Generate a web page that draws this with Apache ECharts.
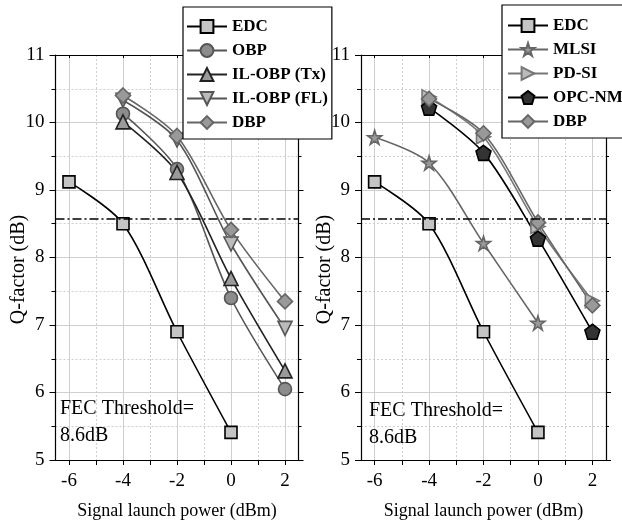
<!DOCTYPE html>
<html>
<head>
<meta charset="utf-8">
<script src="https://cdn.jsdelivr.net/npm/echarts@6/dist/echarts.min.js"></script>
<style>
  html, body { margin: 0; padding: 0; background: #fff; }
  #chart { width: 622px; height: 523px; }
</style>
</head>
<body>
<div id="chart"></div>
<script>
/* 数据 */
const xFrom6 = [-6, -4, -2, 0];
const xFrom4 = [-4, -2, 0, 2];
const edc = [9.12, 8.5, 6.9, 5.41];
const obp = [10.13, 9.31, 7.40, 6.05];
const ilObpTx = [10.01, 9.26, 7.69, 6.32];
const ilObpFl = [10.33, 9.74, 8.2, 6.95];
const dbpLeft = [10.40, 9.8, 8.41, 7.35];
const mlsi = [9.78, 9.40, 8.21, 7.03];
const pdSi = [10.38, 9.79, 8.46, 7.36];
const opcNm = [10.22, 9.55, 8.28, 6.9];
const dbpRight = [10.35, 9.84, 8.52, 7.29];
const fecThreshold = 8.58;
const xLabelValues = [-6, -4, -2, 0, 2];
const xMinorValues = [-5, -3, -1, 1];
const xAllValues = [-6, -5, -4, -3, -2, -1, 0, 1, 2];
const legendLeft = ['EDC', 'OBP', 'IL-OBP (Tx)', 'IL-OBP (FL)', 'DBP'];
const legendRight = ['EDC', 'MLSI', 'PD-SI', 'OPC-NM', 'DBP'];

const serif = "'Liberation Serif', 'Times New Roman', serif";
const pair = (xs, ys) => xs.map((x, i) => [x, ys[i]]);

const SYM_TRI_DOWN = 'path://M0,0L10,0L5,9Z';
const SYM_TRI_RIGHT = 'path://M0,0L9,5L0,10Z';
const SYM_STAR = 'path://M50,0L61.8,35.4L99.9,35.4L69.1,57.3L80.9,92.7L50,70.8L19.1,92.7L30.9,57.3L0,35.4L38.2,35.4Z';
const SYM_PENTA = 'path://M50,0L97.6,34.5L79.4,90.5L20.6,90.5L2.4,34.5Z';

var chart = echarts.init(document.getElementById('chart'));

/* 每个面板的坐标轴 */
function makeXAxes(gridIndex) {
    return [
        {   // 下轴: 刻度和标签
            gridIndex: gridIndex, type: 'value', position: 'bottom',
            min: -6.5, max: 2.5,
            name: 'Signal launch power (dBm)', nameLocation: 'middle', nameGap: 42,
            nameMoveOverlap: false,
            nameTextStyle: { fontFamily: serif, fontSize: 18, color: '#000' },
            axisLine: { show: true, onZero: false, lineStyle: { color: '#000', width: 1.2 } },
            axisTick: { show: true, inside: false, length: 5, customValues: xAllValues, lineStyle: { color: '#000' } },
            axisLabel: { show: true, margin: 12, customValues: xLabelValues, fontFamily: serif, fontSize: 19, color: '#000' },
            splitLine: { show: false }
        },
        {   // 上轴: 实线网格
            gridIndex: gridIndex, type: 'value', position: 'top',
            min: -6.5, max: 2.5,
            axisLine: { show: true, onZero: false, lineStyle: { color: '#000', width: 1.2 } },
            axisTick: { show: true, inside: true, length: 3, customValues: xLabelValues, lineStyle: { color: '#000' } },
            axisLabel: { show: false },
            splitLine: { show: true, lineStyle: { color: '#cfcfcf', width: 1 } }
        },
        {   // 虚线网格
            gridIndex: gridIndex, type: 'value', position: 'bottom',
            min: -6.5, max: 2.5,
            axisLine: { show: false },
            axisTick: { show: false, customValues: xMinorValues },
            axisLabel: { show: false },
            splitLine: { show: true, lineStyle: { color: '#cfcfcf', width: 1, type: [2, 2] } }
        }
    ];
}

function makeYAxes(gridIndex, nameGap) {
    return [
        {
            gridIndex: gridIndex, type: 'value', position: 'left',
            min: 5, max: 11, interval: 1,
            name: 'Q-factor (dB)', nameLocation: 'middle', nameGap: nameGap,
            nameMoveOverlap: false,
            nameTextStyle: { fontFamily: serif, fontSize: 20, color: '#000', padding: [0, 24, 0, 0] },
            axisLine: { show: true, onZero: false, lineStyle: { color: '#000', width: 1.2 } },
            axisTick: { show: true, inside: false, length: 6, lineStyle: { color: '#000' } },
            minorTick: { show: true, splitNumber: 2, length: 4, lineStyle: { color: '#000' } },
            axisLabel: { show: true, margin: 11, fontFamily: serif, fontSize: 19, color: '#000' },
            splitLine: { show: true, lineStyle: { color: '#cfcfcf', width: 1 } },
            minorSplitLine: { show: true, lineStyle: { color: '#cfcfcf', width: 1, type: [2, 2] } }
        },
        {
            gridIndex: gridIndex, type: 'value', position: 'right',
            min: 5, max: 11, interval: 1,
            axisLine: { show: true, onZero: false, lineStyle: { color: '#000', width: 1.2 } },
            axisTick: { show: true, inside: false, length: 5, lineStyle: { color: '#000' } },
            minorTick: { show: true, splitNumber: 2, length: 3, lineStyle: { color: '#000' } },
            axisLabel: { show: false },
            splitLine: { show: false }
        }
    ];
}

function lineSeries(name, data, xAxisIndex, yAxisIndex, symbol, size, lineColor, fill, border) {
    return {
        name: name, type: 'line', xAxisIndex: xAxisIndex, yAxisIndex: yAxisIndex,
        data: data, smooth: 0.3,
        symbol: symbol, symbolSize: size, showAllSymbol: true,
        lineStyle: { color: lineColor, width: 1.6 },
        itemStyle: { color: fill, borderColor: border, borderWidth: 1.6 },
        emphasis: { disabled: true },
        z: 3
    };
}

function thresholdSeries(xAxisIndex, yAxisIndex) {
    return {
        name: 'FEC', type: 'line', xAxisIndex: xAxisIndex, yAxisIndex: yAxisIndex,
        data: [], silent: true,
        markLine: {
            silent: true, symbol: 'none', label: { show: false },
            lineStyle: { color: '#000', width: 1.5, type: [9, 3, 2, 3] },
            data: [{ yAxis: fecThreshold }]
        }
    };
}

const legendBase = {
    orient: 'vertical', backgroundColor: '#fff', borderColor: '#000', borderWidth: 1.2,
    itemWidth: 40, itemHeight: 16, itemGap: 7, selectedMode: false,
    textStyle: { fontFamily: serif, fontWeight: 'bold', fontSize: 17, color: '#000' },
    z: 10
};

option = {
    animation: false,
    backgroundColor: '#fff',
    grid: [
        { left: 55.5, top: 55, width: 243, height: 405, outerBoundsMode: 'none', containLabel: false },
        { left: 361, top: 55, width: 245, height: 405, outerBoundsMode: 'none', containLabel: false }
    ],
    xAxis: makeXAxes(0).concat(makeXAxes(1)),
    yAxis: makeYAxes(0, 27).concat(makeYAxes(1, 26)),
    legend: [
        Object.assign({}, legendBase, { left: 183, top: 7, padding: [11, 4, 8, 3], data: legendLeft }),
        Object.assign({}, legendBase, { left: 502, top: 5, padding: [12, 4, 8, 5], data: legendRight })
    ],
    graphic: [
        { type: 'text', left: 60, top: 395, z: 5, style: { text: 'FEC Threshold=\n8.6dB', font: '20px ' + serif, lineHeight: 27, fill: '#000' } },
        { type: 'text', left: 369, top: 397, z: 5, style: { text: 'FEC Threshold=\n8.6dB', font: '20px ' + serif, lineHeight: 27, fill: '#000' } }
    ],
    series: [
        thresholdSeries(0, 0),
        lineSeries('EDC', pair(xFrom6, edc), 0, 0, 'rect', 12, '#000', '#c4c4c4', '#000'),
        lineSeries('OBP', pair(xFrom4, obp), 0, 0, 'circle', 13, '#555', '#8c8c8c', '#555'),
        lineSeries('IL-OBP (Tx)', pair(xFrom4, ilObpTx), 0, 0, 'triangle', 14, '#222', '#9a9a9a', '#222'),
        lineSeries('IL-OBP (FL)', pair(xFrom4, ilObpFl), 0, 0, SYM_TRI_DOWN, 14, '#555', '#bbbbbb', '#555'),
        lineSeries('DBP', pair(xFrom4, dbpLeft), 0, 0, 'diamond', 15, '#666', '#999999', '#666'),

        thresholdSeries(3, 2),
        lineSeries('EDC', pair(xFrom6, edc), 3, 2, 'rect', 12, '#000', '#c4c4c4', '#000'),
        lineSeries('MLSI', pair(xFrom6, mlsi), 3, 2, SYM_STAR, 14, '#666', '#999999', '#666'),
        lineSeries('PD-SI', pair(xFrom4, pdSi), 3, 2, SYM_TRI_RIGHT, 14, '#777', '#bbbbbb', '#777'),
        lineSeries('OPC-NM', pair(xFrom4, opcNm), 3, 2, SYM_PENTA, 15, '#000', '#333333', '#000'),
        lineSeries('DBP', pair(xFrom4, dbpRight), 3, 2, 'diamond', 15, '#666', '#999999', '#666')
    ]
};
chart.setOption(option);
</script>
</body>
</html>
